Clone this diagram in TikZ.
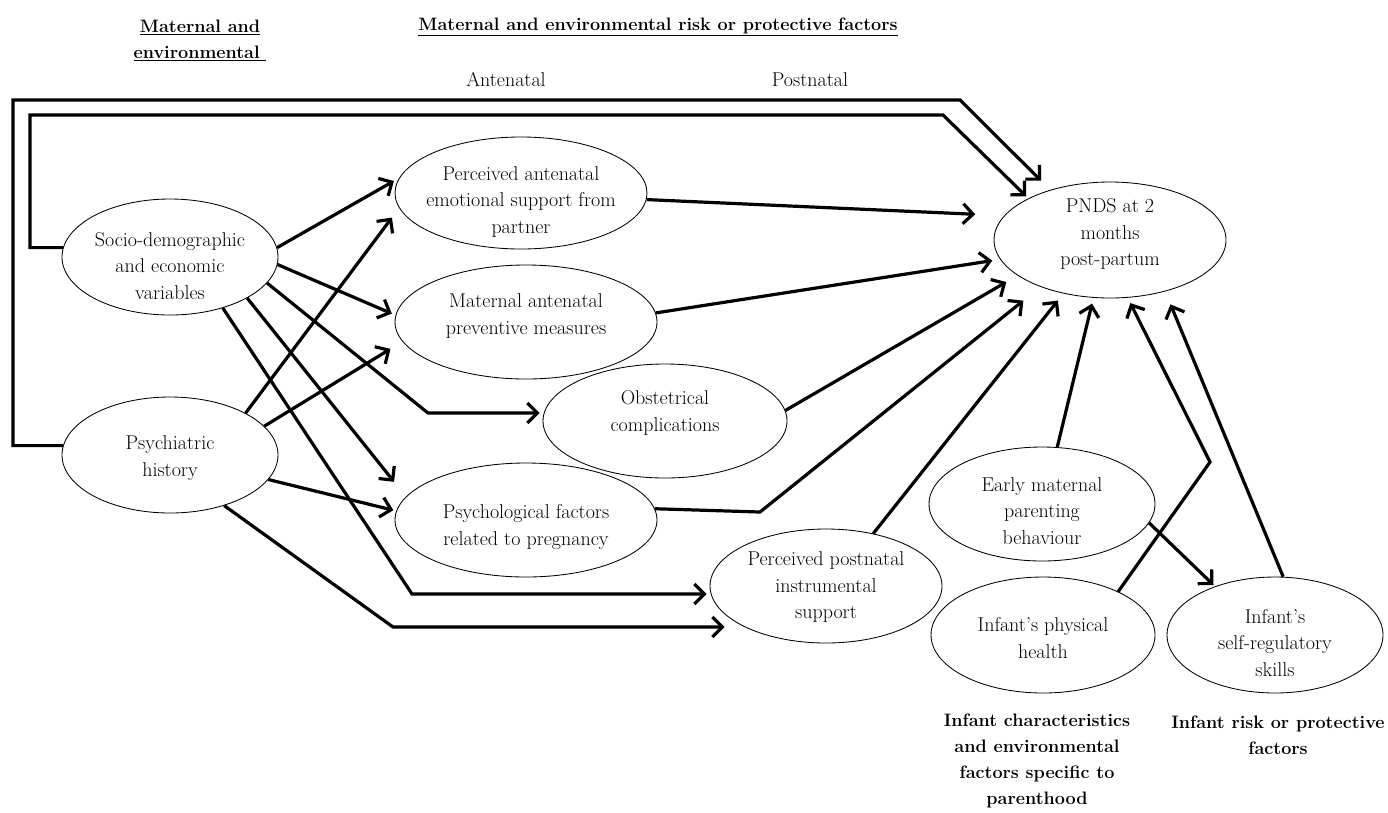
\documentclass[tikz,border=0pt]{standalone}
\usetikzlibrary{shapes.geometric,arrows.meta,calc}
\begin{document}
\begin{tikzpicture}[x=1pt,y=-1pt,
  ell/.style={draw, ellipse, line width=0.85pt, inner sep=0pt},
  txt/.style={align=center, font=\fontsize{20}{26.5}\selectfont, inner sep=0pt},
  btxt/.style={align=center, font=\fontsize{18}{26}\selectfont\bfseries, inner sep=0pt},
  arr/.style={line width=3.2pt, line join=miter, -{Straight Barb[length=10pt,width=20pt]}, shorten >=3pt},
]
\useasboundingbox (0,0) rectangle (1388,812);

% ellipses
\node[ell, minimum width=216pt, minimum height=116pt] (sd) at (170,257) {};
\node[ell, minimum width=216pt, minimum height=116pt] (ph) at (170,455) {};
\node[ell, minimum width=252pt, minimum height=112pt] (pa) at (521,193) {};
\node[ell, minimum width=262pt, minimum height=114pt] (ma) at (526,322) {};
\node[ell, minimum width=244pt, minimum height=114pt] (ob) at (665,421) {};
\node[ell, minimum width=262pt, minimum height=114pt] (pf) at (526,520) {};
\node[ell, minimum width=232pt, minimum height=114pt] (pp) at (826,586) {};
\node[ell, minimum width=232pt, minimum height=116pt] (pn) at (1110,240) {};
\node[ell, minimum width=226pt, minimum height=114pt] (em) at (1042,504) {};
\node[ell, minimum width=224pt, minimum height=116pt] (ip) at (1043,635) {};
\node[ell, minimum width=216pt, minimum height=116pt] (is) at (1275,635) {};

% texts
\node[txt] (sdt) at (170,266) {Socio-demographic\\and economic\\variables};
\node[txt] (pht) at (170,458) {Psychiatric\\history};
\node[txt] (pat) at (521,202) {Perceived antenatal\\emotional support from\\partner};
\node[txt] (mat) at (526,316) {Maternal antenatal\\preventive measures};
\node[txt] (obt) at (665,413) {Obstetrical\\complications};
\node[txt] (pft) at (526,527) {Psychological factors\\related to pregnancy};
\node[txt] (ppt) at (826,587) {Perceived postnatal\\instrumental\\support};
\node[txt] (pnt) at (1110,234) {PNDS at 2\\months\\post-partum};
\node[txt] (emt) at (1042,511) {Early maternal\\parenting\\behaviour};
\node[txt] (ipt) at (1043,638) {Infant’s physical\\health};
\node[txt] (ist) at (1275,643) {Infant’s\\self-regulatory\\skills};

% headings
\node[btxt] (h1) at (200,40) {\underline{Maternal and}\\\underline{environmental\ }};
\node[btxt] (h2) at (658,27) {\underline{Maternal and environmental risk or protective factors}};
\node[txt] (ante) at (506,80) {Antenatal};
\node[txt] (post) at (810,80) {Postnatal};
\node[btxt] (h3) at (1037,761) {Infant characteristics\\and environmental\\factors specific to\\parenthood};
\node[btxt] (h4) at (1278,735) {Infant risk or protective\\factors};

% corner coordinates
\coordinate (c1o) at (13,100);
\coordinate (c2o) at (960,100);
\coordinate (c1i) at (30,115);
\coordinate (c2i) at (943,115);
\coordinate (c3) at (428,413);
\coordinate (c4) at (412,594);
\coordinate (c5) at (393,627);
\coordinate (c6) at (760,512);
\coordinate (c7) at (1210,462);

% frame arrows
\draw[arr, shorten >=13pt] (ph.175) -| (c1o) -- (c2o) -- (pn.140);
\draw[arr] (sd.175) -| (c1i) -- (c2i) -- (pn.153.8);

% left side
\draw[arr, shorten >=6pt] (sd.5) -- (pa.173.8);
\draw[arr, shorten >=4pt] (sd.-4) -- (ma.177);
\draw[arr] (sd.-15) -- (c3) -- (c3 -| ob.west);
\draw[arr, shorten >=19pt] (sd.-28) -- (pf.169.7);
\draw[arr] (sd.-44) -- (c4) -- (c4 -| pp.west);
\draw[arr, shorten >=12pt] (ph.29) -- (pa.187.3);
\draw[arr, shorten >=14pt] (ph.17) -- (ma.189.1);
\draw[arr] (ph.-14.5) -- (pf.176);
\draw[arr, shorten >=-15pt] (ph.-43.5) -- (c5) -- (c5 -| pp.west);

% to PNDS
\draw[arr, shorten >=29pt] (pa.-3.6) -- (pn.167);
\draw[arr, shorten >=8pt] (ma.4) -- (pn.190);
\draw[arr, shorten >=13pt] (ob.5) -- (pn.201.4);
\draw[arr, shorten >=22pt] (pf.5.7) -- (c6) -- (pn.-146.8);
\draw[arr, shorten >=9pt] (pp.48.6) -- (pn.-131.8);
\draw[arr, shorten >=6pt] (em.75) -- (pn.-106);
\draw[arr, shorten >=6pt] (ip.30.4) -- (c7) -- (pn.-73.3);
\draw[arr, shorten >=14pt] (is.82) -- (pn.-43.9);
\draw[arr, shorten >=2pt] (em.-10) -- (is.141.4);
\end{tikzpicture}
\end{document}
